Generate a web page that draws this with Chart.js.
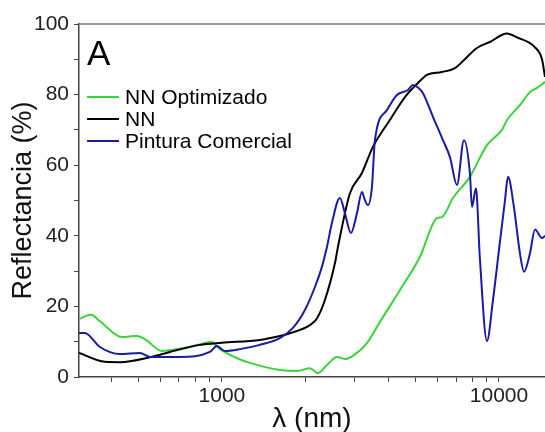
<!DOCTYPE html>
<html>
<head>
<meta charset="utf-8">
<script src="https://cdn.jsdelivr.net/npm/chart.js@4"></script>
<style>
  html, body { margin: 0; padding: 0; background: #fff; }
  #wrap { width: 545px; height: 432px; }
</style>
</head>
<body>
<div id="wrap"><canvas id="refChart" width="545" height="432"></canvas></div>
<script>
// ----- Data -----
const seriesNames = ["NN Optimizado", "NN", "Pintura Comercial"];

const greenWl = [305, 337, 363, 436, 465, 493, 532, 607, 700, 833, 913, 983, 1152, 1262, 1619, 1866, 2078, 2222, 2394, 2601,
  2780, 2971, 3338, 3717, 4390, 5183, 5972, 6226, 6823, 7852, 9050, 10251, 10688, 11905, 12937, 13720, 14660];
const greenR = [16.4, 17.6, 15.8, 11.3, 11.5, 11.6, 10.5, 7.4, 8.0, 9.2, 10.0, 7.9, 5.1, 4.0, 2.0, 1.7, 2.5, 1.1, 3.4, 5.7,
  5.1, 6.0, 9.6, 15.6, 24.6, 34.0, 45.0, 45.3, 50.7, 56.7, 65.7, 70.0, 72.8, 77.0, 80.7, 81.9, 83.6];

const blackWl = [305, 378, 428, 550, 649, 833, 1000, 1371, 1619, 1759, 2078, 2203, 2354, 2558, 2623, 2897, 3202, 3508, 4039, 4577,
  5102, 5496, 6226, 6937, 7414, 8325, 9271, 10688, 11614, 13490, 14298, 14660];
const blackR = [6.8, 4.3, 4.2, 5.6, 7.1, 9.1, 9.7, 10.5, 11.6, 12.4, 14.7, 16.6, 21.8, 32.2, 36.8, 52.0, 57.8, 65.2, 72.8, 79.3,
  83.3, 85.6, 86.4, 87.5, 89.5, 93.2, 94.9, 97.3, 96.2, 93.4, 90.0, 85.0];

const blueWl = [305, 320, 363, 428, 506, 550, 705, 905, 959, 1025, 1161, 1371, 1619, 1804, 1994, 2167, 2296, 2394, 2495, 2666,
  2780, 2922, 3072, 3202, 3283, 3366, 3479, 3567, 3942, 4282, 4693, 4893, 5102, 5318, 5777, 6278, 6654, 7053, 7476, 7852,
  7991, 8260, 8532, 9050, 9513, 10000, 10511, 10777, 11330, 11905, 12310, 12937, 13490, 14298, 14660];
const blueR = [12.5, 12.5, 8.5, 6.5, 6.8, 5.7, 5.7, 7.1, 8.8, 7.4, 7.9, 9.1, 11.0, 13.9, 19.0, 25.5, 31.2, 36.8, 43.6, 50.7,
  46.4, 40.8, 46.4, 52.4, 50.1, 48.7, 53.8, 67.1, 75.6, 79.9, 81.3, 82.7, 82.0, 80.4, 73.7, 67.1, 62.3, 54.4, 67.1, 57.8,
  48.2, 53.5, 33.7, 10.2, 21.8, 36.0, 50.0, 56.7, 48.0, 35.0, 29.8, 35.0, 41.8, 39.4, 40.0];

// axis ticks
const xTicks = [400, 500, 600, 700, 800, 900, 1000, 2000, 3000, 4000, 5000, 6000, 7000, 8000, 9000, 10000];
const xLabels = [1000, 10000];
const yTicks = [0, 10, 20, 30, 40, 50, 60, 70, 80, 90, 100];
const yLabels = [0, 20, 40, 60, 80, 100];

const toPts = (xs, ys) => xs.map((x, i) => ({ x, y: ys[i] }));

const FONT = "'Liberation Sans', Arial, sans-serif";

// ----- Frame + legend + panel letter -----
const decorPlugin = {
  id: "decor",
  afterDraw(chart) {
    const { ctx, chartArea: { left, right, top } } = chart;
    ctx.save();
    // top frame line
    ctx.strokeStyle = "#777";
    ctx.lineWidth = 1.5;
    ctx.beginPath();
    ctx.moveTo(left, top);
    ctx.lineTo(right, top);
    ctx.stroke();

    // panel letter
    ctx.fillStyle = "#000";
    ctx.font = "35px " + FONT;
    ctx.textBaseline = "alphabetic";
    ctx.fillText("A", 87, 65);

    // legend
    const rows = [97, 119, 141];
    ctx.font = "21px " + FONT;
    ctx.textBaseline = "middle";
    chart.data.datasets.forEach((ds, i) => {
      const y = rows[i];
      ctx.strokeStyle = ds.borderColor;
      ctx.lineWidth = 2;
      ctx.beginPath();
      ctx.moveTo(87, y);
      ctx.lineTo(119, y);
      ctx.stroke();
      ctx.fillStyle = "#000";
      ctx.fillText(ds.label, 125, y + 1);
    });
    ctx.restore();
  }
};

// ----- Chart -----
const ctx = document.getElementById("refChart").getContext("2d");
const chart = new Chart(ctx, {
  type: "line",
  data: {
    datasets: [
      {
        label: seriesNames[0],
        data: toPts(greenWl, greenR),
        borderColor: "#3ad43a",
        borderWidth: 2,
        pointRadius: 0,
        cubicInterpolationMode: "monotone",
        order: 2
      },
      {
        label: seriesNames[1],
        data: toPts(blackWl, blackR),
        borderColor: "#000000",
        borderWidth: 2,
        pointRadius: 0,
        cubicInterpolationMode: "monotone",
        order: 1
      },
      {
        label: seriesNames[2],
        data: toPts(blueWl, blueR),
        borderColor: "#1a1aa6",
        borderWidth: 2,
        pointRadius: 0,
        cubicInterpolationMode: "monotone",
        order: 0
      }
    ]
  },
  options: {
    responsive: false,
    animation: false,
    events: [],
    layout: { padding: { left: 0, top: 24, right: 0, bottom: 0 } },
    plugins: { legend: { display: false }, tooltip: { enabled: false } },
    scales: {
      x: {
        type: "logarithmic",
        min: 305,
        max: 14660,
        afterBuildTicks: (scale) => {
          scale.ticks = xTicks.map((v) => ({ value: v, major: xLabels.includes(v) }));
        },
        afterFit: (scale) => { scale.height = 55; },
        ticks: {
          autoSkip: false,
          maxRotation: 0,
          padding: 4,
          color: "#222",
          font: { family: FONT, size: 21, lineHeight: 1 },
          callback: (v) => (xLabels.includes(v) ? String(v) : "")
        },
        grid: { drawOnChartArea: false, drawTicks: true, tickLength: 5, color: "#444", tickWidth: 1 },
        border: { display: true, color: "#444", width: 1.5 },
        title: {
          display: true,
          text: "λ (nm)",
          color: "#111",
          font: { family: FONT, size: 28, lineHeight: 0.9 },
          padding: { top: 0, bottom: 0 }
        }
      },
      y: {
        type: "linear",
        min: 0,
        max: 100,
        afterBuildTicks: (scale) => {
          scale.ticks = yTicks.map((v) => ({ value: v }));
        },
        afterFit: (scale) => { scale.width = 79; },
        ticks: {
          autoSkip: false,
          padding: 5,
          color: "#222",
          font: { family: FONT, size: 21, lineHeight: 1 },
          callback: (v) => (yLabels.includes(v) ? String(v) : "")
        },
        grid: { drawOnChartArea: false, drawTicks: true, tickLength: 5, color: "#444", tickWidth: 1 },
        border: { display: true, color: "#444", width: 1.5 },
        title: {
          display: true,
          text: "Reflectancia (%)",
          color: "#111",
          font: { family: FONT, size: 27, lineHeight: 1 },
          padding: { top: 10, bottom: 0 }
        }
      }
    }
  },
  plugins: [decorPlugin]
});
</script>
</body>
</html>
